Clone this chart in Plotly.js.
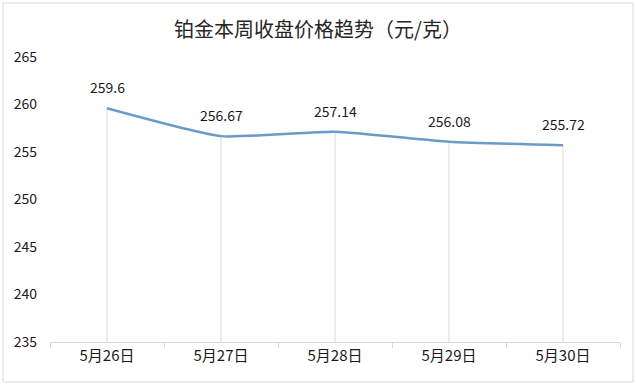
<!DOCTYPE html>
<html>
<head>
<meta charset="utf-8">
<script src="https://cdn.plot.ly/plotly-3.0.1.min.js"></script>
<style>html,body{margin:0;padding:0;background:#fff;}#chart{width:636px;height:387px;}</style>
</head>
<body>
<div id="chart"></div>
<script>
const categories = ["5月26日", "5月27日", "5月28日", "5月29日", "5月30日"];
const prices = [259.6, 256.67, 257.14, 256.08, 255.72];
const labels = ["259.6", "256.67", "257.14", "256.08", "255.72"];
const yTicks = [235, 240, 245, 250, 255, 260, 265];
const yMin = 235, yMax = 265;

const font = '"Noto Sans CJK SC", "Noto Sans", sans-serif';

const dropLines = {
  x: categories, y: prices, type: 'scatter', mode: 'markers',
  marker: {size: 1, color: 'rgba(0,0,0,0)'},
  error_y: {type: 'data', symmetric: false, array: prices.map(() => 0),
            arrayminus: prices.map(v => v - yMin), width: 0, color: '#d9d9d9', thickness: 1},
  hoverinfo: 'skip', showlegend: false
};

const line = {
  x: categories, y: prices, type: 'scatter', mode: 'lines',
  line: {color: '#6b9bc8', width: 2.5, shape: 'spline', smoothing: 0.5},
  showlegend: false
};

const annotations = categories.map((c, i) => ({
  x: c, y: prices[i], text: labels[i], showarrow: false, yshift: 21,
  font: {family: font, size: 14, color: '#1a1a1a'}
}));

const layout = {
  width: 636, height: 387,
  margin: {l: 50, r: 16, t: 57, b: 45},
  paper_bgcolor: '#fff', plot_bgcolor: '#fff',
  title: {text: '铂金本周收盘价格趋势（元/克）', x: 0.5, xanchor: 'center', y: 0.922, yanchor: 'middle',
          font: {family: font, size: 20, color: '#262626'}},
  xaxis: {
    type: 'category', range: [-0.5, 4.5],
    showgrid: false, zeroline: false,
    showline: true, linecolor: '#d9d9d9', linewidth: 1,
    ticks: 'outside', ticklen: 5, tickcolor: '#d9d9d9', tickson: 'boundaries',
    tickfont: {family: font, size: 15, color: '#1a1a1a'}
  },
  yaxis: {
    range: [yMin, yMax], tickvals: yTicks, ticktext: yTicks.map(String),
    showgrid: false, zeroline: false, showline: false,
    ticks: '', ticklabelstandoff: 12,
    tickfont: {family: font, size: 14, color: '#1a1a1a'}
  },
  annotations: annotations,
  shapes: [{type: 'rect', xref: 'paper', yref: 'paper', x0: -47/570, x1: 583/570, y0: (342-382)/285, y1: (342-3)/285,
            line: {color: '#d9d9d9', width: 1}, fillcolor: 'rgba(0,0,0,0)', layer: 'below'}]
};

Plotly.newPlot('chart', [dropLines, line], layout, {displayModeBar: false, staticPlot: true});
</script>
</body>
</html>
